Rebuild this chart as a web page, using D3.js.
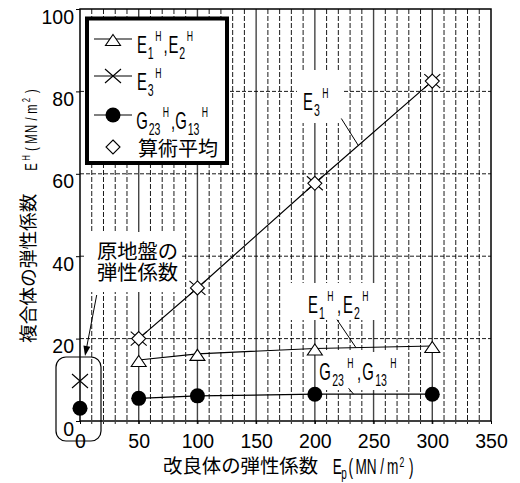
<!DOCTYPE html>
<html>
<head>
<meta charset="utf-8">
<script src="https://cdn.jsdelivr.net/npm/d3@7"></script>
<style>
  body { margin: 0; background: #fff; }
  text { font-family: "Liberation Sans", Arial, sans-serif; fill: #000; }
  .cjk { font-family: "Noto Sans CJK JP", "Noto Sans CJK SC", sans-serif; }
</style>
</head>
<body>
<svg id="chart" width="520" height="483"></svg>
<script>
// values
const xVals    = [50, 100, 200, 300];
const e12Vals  = [14.8, 16.3, 17.6, 18.2];   // E1H, E2H
const e3Vals   = [20, 32.3, 57.7, 82.5];     // E3H
const meanVals = [20, 32.3, 57.7, 82.5];     // 算術平均
const gVals    = [5.5, 6.1, 6.5, 6.5];       // G23H, G13H
const groundX  = [0];                        // 原地盤
const groundE3 = [9.7];
const groundG  = [3.1];
const xTicks = [0, 50, 100, 150, 200, 250, 300, 350];
const yTicks = [0, 20, 40, 60, 80, 100];

const labE12 = [['E','n'],['1','sub'],['H','sup'],[',','n'],['E','n'],['2','sub'],['H','sup']];
const labE3  = [['E','n'],['3','sub'],['H','sup']];
const labG   = [['G','n'],['23','sub'],['H','sup'],[',','n'],['G','n'],['13','sub'],['H','sup']];
const labMean = '算術平均';
const labGround = ['原地盤の', '弾性係数'];
const xTitleJa = '改良体の弾性係数';
const xTitleEn = [['E','n'],['p','sub'],['(MN/m','n'],['2','sup'],[')','n']];
const yTitleJa = '複合体の弾性係数';
const yTitleEn = [['E','n'],['H','sup'],['(MN/m','n'],['2','sup'],[')','n']];

const svg = d3.select('#chart');
const x = d3.scaleLinear().domain([0, 350]).range([80, 491]);
const y = d3.scaleLinear().domain([0, 100]).range([421, 9]);

// grid
let grid = svg.append('g');
grid.selectAll('line.minor')
  .data(d3.range(10, 350, 10).filter(v => v % 50))
  .enter().append('line')
  .attr('x1', d => x(d)).attr('x2', d => x(d))
  .attr('y1', y(100)).attr('y2', y(0) + 3)
  .attr('stroke', '#000').attr('stroke-width', 0.9)
  .attr('stroke-dasharray', '5,2');
grid.selectAll('line.major')
  .data(xTicks.slice(1, -1))
  .enter().append('line')
  .attr('x1', d => x(d)).attr('x2', d => x(d))
  .attr('y1', y(100)).attr('y2', y(0) + 3)
  .attr('stroke', '#444').attr('stroke-width', 1.4);
grid.selectAll('line.h')
  .data(yTicks.slice(1, -1))
  .enter().append('line')
  .attr('x1', x(0)).attr('x2', x(350))
  .attr('y1', d => y(d)).attr('y2', d => y(d))
  .attr('stroke', '#000').attr('stroke-width', 0.9)
  .attr('stroke-dasharray', '4,2');

// white patches behind labels
const patches = [[297, 70, 46, 53], [288, 283, 88, 37], [318, 352, 84, 38], [86, 232, 96, 60]];
svg.append('g').selectAll('rect')
  .data(patches).enter().append('rect')
  .attr('x', d => d[0]).attr('y', d => d[1])
  .attr('width', d => d[2]).attr('height', d => d[3])
  .attr('fill', '#fff');

// frame and axes
svg.append('rect')
  .attr('x', x(0)).attr('y', y(100))
  .attr('width', x(350) - x(0)).attr('height', y(0) - y(100))
  .attr('fill', 'none').attr('stroke', '#000').attr('stroke-width', 1.5);

let yAxis = svg.append('g')
  .attr('transform', `translate(${x(0)},0)`)
  .call(d3.axisLeft(y).tickValues(yTicks).tickSize(4).tickPadding(2));
yAxis.select('.domain').remove();
yAxis.selectAll('text').attr('dy', '0.72em');

let xAxis = svg.append('g')
  .attr('transform', `translate(0,${y(0)})`)
  .call(d3.axisBottom(x).tickValues(xTicks).tickSize(3).tickPadding(10));
xAxis.select('.domain').remove();

svg.selectAll('.tick text')
  .style('font-family', '"Liberation Sans", Arial, sans-serif')
  .style('font-size', '19.5px').attr('fill', '#000');

// data lines
const line = d3.line().x(d => x(d[0])).y(d => y(d[1]));
function series(vals) { return xVals.map((v, i) => [v, vals[i]]); }
[e3Vals, e12Vals, gVals].forEach(vals => {
  svg.append('path').datum(series(vals))
    .attr('d', line)
    .attr('fill', 'none').attr('stroke', '#000').attr('stroke-width', 1.2);
});

// markers
const triPath = 'M0,-4.5L7.5,6.5L-7.5,6.5Z';
const crossPath = 'M-8,-7L8,7M-8,7L8,-7';
const diaPath = 'M0,-7L7,0L0,7L-7,0Z';

function markers(data, kind) {
  let sel = svg.append('g').selectAll('path')
    .data(data).enter();
  if (kind === 'circle') {
    sel.append('circle')
      .attr('cx', d => x(d[0])).attr('cy', d => y(d[1]))
      .attr('r', 7.5).attr('fill', '#000');
    return;
  }
  sel.append('path')
    .attr('transform', d => `translate(${x(d[0])},${y(d[1])})`)
    .attr('d', kind === 'tri' ? triPath : kind === 'cross' ? crossPath : diaPath)
    .attr('fill', kind === 'cross' ? 'none' : '#fff')
    .attr('stroke', '#000').attr('stroke-width', 1.1);
}
markers(series(e12Vals), 'tri');
markers(series(e3Vals), 'cross');
markers(groundX.map((v, i) => [v, groundE3[i]]), 'cross');
markers(series(meanVals), 'dia');
markers(series(gVals), 'circle');
markers(groundX.map((v, i) => [v, groundG[i]]), 'circle');

// one text element; normal glyphs sit in narrow cells, sub/sup strings as one piece
function rich(g, x0, y0, parts, o) {
  let t = g.append('text')
    .attr('transform', `translate(${x0},${y0}) scale(${o.sx},1)`)
    .attr('text-anchor', 'middle');
  let cur = 0;
  parts.forEach(([str, kind]) => {
    if (kind !== 'n') {
      let w = (kind === 'sub' ? o.sw : o.pw) * str.length;
      t.append('tspan')
        .attr('x', (cur + w / 2) / o.sx)
        .attr('y', kind === 'sub' ? o.subDy : o.supDy)
        .attr('font-size', kind === 'sub' ? o.subSize : o.supSize)
        .text(str);
      cur += w;
      return;
    }
    for (const ch of str) {
      let w = ch === ',' ? o.comma : o.cw;
      t.append('tspan')
        .attr('x', (cur + w / 2) / o.sx).attr('y', 0)
        .attr('font-size', o.size)
        .text(ch);
      cur += w;
    }
  });
}
const annOpt = {size: 24, cw: 10, sw: 8, pw: 9, comma: 8, subSize: 17, supSize: 14, subDy: 6, supDy: -12, sx: 0.62};
const legOpt = Object.assign({}, annOpt, {sw: 7.5, pw: 8, comma: 6});

// legend
let legend = svg.append('g');
legend.append('rect')
  .attr('x', 87).attr('y', 18.5).attr('width', 140).attr('height', 144.5)
  .attr('fill', '#fff').attr('stroke', '#000').attr('stroke-width', 4);
const legRows = [
  {kind: 'tri', ly: 39, label: labE12},
  {kind: 'cross', ly: 76, label: labE3},
  {kind: 'circle', ly: 115, label: labG}
];
legRows.forEach(r => {
  legend.append('line')
    .attr('x1', 94).attr('x2', 132).attr('y1', r.ly).attr('y2', r.ly)
    .attr('stroke', '#000').attr('stroke-width', 1.2);
  if (r.kind === 'circle') {
    legend.append('circle').attr('cx', 113).attr('cy', r.ly).attr('r', 7.5).attr('fill', '#000');
  } else {
    legend.append('path')
      .attr('transform', `translate(113,${r.ly})`)
      .attr('d', r.kind === 'tri' ? triPath : crossPath)
      .attr('fill', r.kind === 'tri' ? '#fff' : 'none')
      .attr('stroke', '#000').attr('stroke-width', 1.1);
  }
  rich(legend, 137, r.ly + 13.5, r.label, legOpt);
});
legend.append('path')
  .attr('transform', 'translate(113,147)')
  .attr('d', diaPath).attr('fill', '#fff')
  .attr('stroke', '#000').attr('stroke-width', 1.1);
legend.append('text').attr('class', 'cjk')
  .attr('x', 138).attr('y', 156).attr('font-size', 20)
  .text(labMean);

// annotations
let ann = svg.append('g');
rich(ann, 303, 110, labE3, annOpt);
rich(ann, 308, 313, labE12, annOpt);
rich(ann, 320, 380, labG, annOpt);

function leader(vals, xd, dx, dy) {
  let f = d3.scaleLinear().domain(xVals).range(vals);
  let ex = x(xd), ey = y(f(xd));
  ann.append('line')
    .attr('x1', ex + dx).attr('y1', ey + dy).attr('x2', ex).attr('y2', ey)
    .attr('stroke', '#000').attr('stroke-width', 1);
}
leader(e3Vals, 237, -17, -27);
leader(e12Vals, 235, -19, -28);
leader(gVals, 233, -5, -6);

let gl = ann.append('text').attr('class', 'cjk')
  .attr('font-size', 20.3);
labGround.forEach((t, i) => {
  gl.append('tspan').attr('x', 97).attr('y', 259 + i * 20.5).text(t);
});

// arrow to the original ground points
let ax1 = 96.7, ay1 = 295, ax2 = 85, ay2 = 356;
let len = Math.hypot(ax2 - ax1, ay2 - ay1), ux = (ax2 - ax1) / len, uy = (ay2 - ay1) / len;
ann.append('line')
  .attr('x1', ax1).attr('y1', ay1).attr('x2', ax2 - ux * 6).attr('y2', ay2 - uy * 6)
  .attr('stroke', '#000').attr('stroke-width', 1);
ann.append('path')
  .attr('d', `M${ax2},${ay2}L${ax2 - ux * 10 - uy * 3.5},${ay2 - uy * 10 + ux * 3.5}L${ax2 - ux * 10 + uy * 3.5},${ay2 - uy * 10 - ux * 3.5}Z`)
  .attr('fill', '#000');

svg.append('rect')
  .attr('x', 56).attr('y', 357).attr('width', 45).attr('height', 84)
  .attr('rx', 10).attr('fill', 'none')
  .attr('stroke', '#000').attr('stroke-width', 1.2);

// axis titles
svg.append('text').attr('class', 'cjk')
  .attr('x', 163).attr('y', 473).attr('font-size', 19.4)
  .text(xTitleJa);
rich(svg.append('g'), 332, 474, xTitleEn,
  {size: 22, cw: 10.5, sw: 3, pw: 8, comma: 6, subSize: 16, supSize: 14, subDy: 5, supDy: -7, sx: 0.62});

let yt = svg.append('g').attr('transform', 'translate(35,0) rotate(-90)');
yt.append('text').attr('class', 'cjk')
  .attr('x', -343).attr('y', 0).attr('font-size', 18.7)
  .text(yTitleJa);
rich(yt, -172, 2, yTitleEn,
  {size: 16, cw: 10, sw: 6, pw: 8, comma: 6, subSize: 12, supSize: 11, subDy: 4, supDy: -7, sx: 0.7});
</script>
</body>
</html>
